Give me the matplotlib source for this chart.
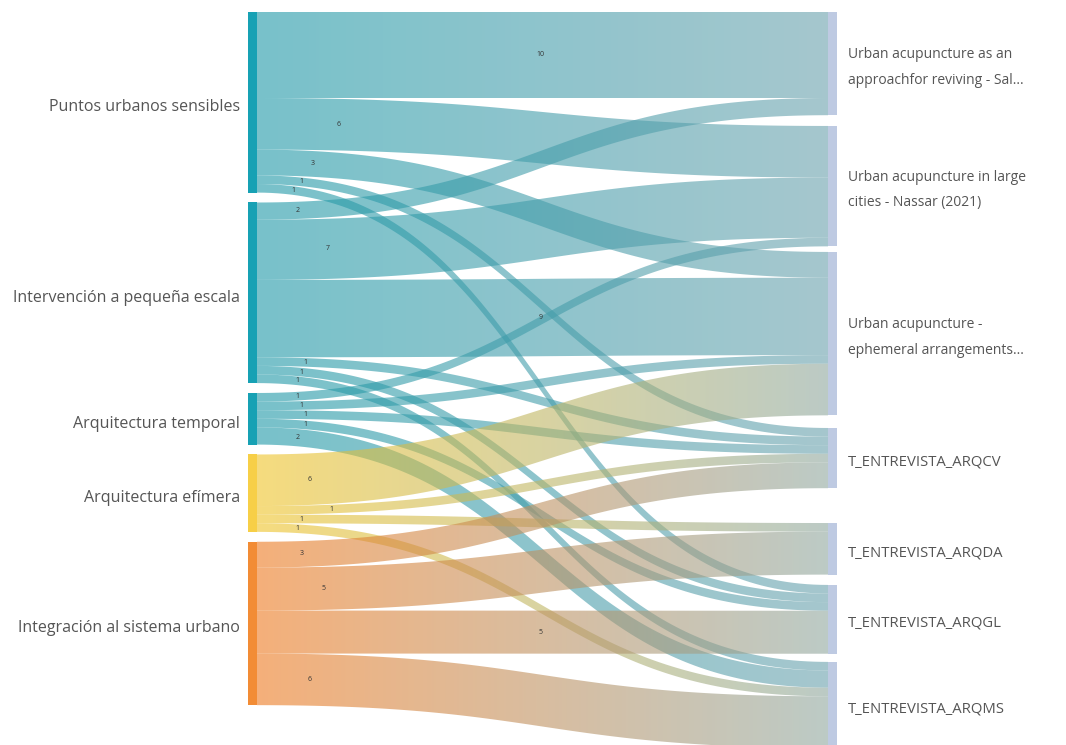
import numpy as np
import matplotlib
matplotlib.use("Agg")
import matplotlib.pyplot as plt
from matplotlib.path import Path
from matplotlib.patches import PathPatch, Rectangle
from matplotlib.colors import to_rgb

plt.rcParams['font.family'] = ['Open Sans', 'DejaVu Sans']

# --- data ---
sources = ["Puntos urbanos sensibles", "Intervención a pequeña escala",
           "Arquitectura temporal", "Arquitectura efímera",
           "Integración al sistema urbano"]
targets = ["Urban acupuncture as an\napproachfor reviving - Sal...",
           "Urban acupuncture in large\ncities - Nassar (2021)",
           "Urban acupuncture -\nephemeral arrangements...",
           "T_ENTREVISTA_ARQCV", "T_ENTREVISTA_ARQDA",
           "T_ENTREVISTA_ARQGL", "T_ENTREVISTA_ARQMS"]

link_src = [0, 0, 0, 0, 0,
            1, 1, 1, 1, 1, 1,
            2, 2, 2, 2, 2,
            3, 3, 3, 3,
            4, 4, 4, 4]
link_tgt = [0, 1, 2, 3, 5,
            0, 1, 2, 3, 5, 6,
            1, 2, 3, 5, 6,
            2, 3, 4, 6,
            3, 4, 5, 6]
link_val = [10, 6, 3, 1, 1,
            2, 7, 9, 1, 1, 1,
            1, 1, 1, 1, 2,
            6, 1, 1, 1,
            3, 5, 5, 6]

# --- layout / style ---
label_pos = [0.496, 0.105, 0.07, 0.056, 0.047,
             0.051, 0.088, 0.496, 0.061, 0.056, 0.049,
             0.049, 0.054, 0.059, 0.059, 0.051,
             0.067, 0.093, 0.054, 0.049,
             0.054, 0.084, 0.496, 0.067]
px_unit = 8.6
left_gap = 1.15
right_gaps = [1.25, 0.65, 1.47, 4.05, 1.2, 0.95]
xl0, xl1 = 248, 257     # left node bar
xr0, xr1 = 828, 837     # right node bar

src_bar = ["#17a1b4", "#17a1b4", "#17a1b4", "#f7cf47", "#f28c35"]
src_flow = ["#1e99a8", "#1e99a8", "#1e99a8", "#f0c428", "#ee7b21"]
src_flow_end = ["#6aa2ad", "#6aa2ad", "#6aa2ad", "#8fa89f", "#90a8a0"]
tgt_bar = "#b3c1dd"
flow_alpha = 0.6
text_color = "#555555"

fig = plt.figure(figsize=(10.66, 7.45), dpi=100)
ax = fig.add_axes([0, 0, 1, 1])
ax.set_axis_off()

# node positions
src_tot = [sum(v for s, v in zip(link_src, link_val) if s == i) for i in range(len(sources))]
tgt_tot = [sum(v for t, v in zip(link_tgt, link_val) if t == j) for j in range(len(targets))]
src_y = []
y = 0.0
for i, tot in enumerate(src_tot):
    src_y.append(y)
    y += tot + left_gap
tgt_y = []
y = 0.0
for j, tot in enumerate(tgt_tot):
    tgt_y.append(y)
    y += tot + (right_gaps[j] if j < len(right_gaps) else 0)

# link offsets (order: by target at source, by source at target)
order = sorted(range(len(link_val)), key=lambda k: (link_src[k], link_tgt[k]))
s_off = list(src_y)
link_sy = [0] * len(link_val)
for k in order:
    link_sy[k] = s_off[link_src[k]]
    s_off[link_src[k]] += link_val[k]
order_t = sorted(range(len(link_val)), key=lambda k: (link_tgt[k], link_src[k]))
t_off = list(tgt_y)
link_ty = [0] * len(link_val)
for k in order_t:
    link_ty[k] = t_off[link_tgt[k]]
    t_off[link_tgt[k]] += link_val[k]


def bez(ya, yb, n=120):
    t = np.linspace(0, 1, n)
    xm = (xl1 + xr0) / 2
    xs = (1 - t) ** 3 * xl1 + 3 * (1 - t) ** 2 * t * xm + 3 * (1 - t) * t ** 2 * xm + t ** 3 * xr0
    ys = (1 - t) ** 3 * ya + 3 * (1 - t) ** 2 * t * ya + 3 * (1 - t) * t ** 2 * yb + t ** 3 * yb
    return xs, ys


ncol = 600
for k in range(len(link_val)):
    v = link_val[k]
    ya, yb = link_sy[k], link_ty[k]
    xt, yt = bez(ya, yb)
    xb, yb2 = bez(ya + v, yb + v)
    verts = np.concatenate([np.column_stack([xt, yt]),
                            np.column_stack([xb[::-1], yb2[::-1]]),
                            [[xt[0], yt[0]]]])
    patch = PathPatch(Path(verts, closed=True), facecolor="none", edgecolor="none")
    ax.add_patch(patch)
    c0 = np.array(to_rgb(src_flow[link_src[k]]))
    c1 = np.array(to_rgb(src_flow_end[link_src[k]]))
    g = np.linspace(0, 1, ncol)[:, None]
    rgba = np.ones((2, ncol, 4))
    rgba[:, :, :3] = c0 * (1 - g) + c1 * g
    rgba[:, :, 3] = flow_alpha
    ymin, ymax = min(ya, yb) - 0.5, max(ya, yb) + v + 0.5
    im = ax.imshow(rgba, extent=(xl1 - 2, xr0 + 2, ymax, ymin), aspect="auto",
                   interpolation="nearest", zorder=1)
    im.set_clip_path(patch)

    # value label
    tl = label_pos[k]
    xs, ysc = bez(ya + v / 2, yb + v / 2, n=201)
    idx = int(round(tl * 200))
    ax.text(xs[idx], ysc[idx], str(v), fontsize=5, color="#333333",
            ha="center", va="center", zorder=5)

# node bars + labels
for i, name in enumerate(sources):
    ax.add_patch(Rectangle((xl0, src_y[i]), xl1 - xl0, src_tot[i],
                           facecolor=src_bar[i], edgecolor="none", zorder=3))
    ax.text(xl0 - 8, src_y[i] + src_tot[i] / 2 + 0.55, name, ha="right", va="center",
            fontsize=11.5, color=text_color)
for j, name in enumerate(targets):
    ax.add_patch(Rectangle((xr0, tgt_y[j]), xr1 - xr0, tgt_tot[j],
                           facecolor=tgt_bar, edgecolor="none", alpha=0.85, zorder=3))
    fs = 10 if "\n" in name else 10.7
    ax.text(xr1 + 11, tgt_y[j] + tgt_tot[j] / 2 + 0.45, name, ha="left", va="center",
            fontsize=fs, color=text_color, linespacing=1.95)

ax.set_xlim(0, 1066)
ax.set_ylim((745 - 12) / px_unit, -12 / px_unit)

fig.savefig("out.png", dpi=100)
